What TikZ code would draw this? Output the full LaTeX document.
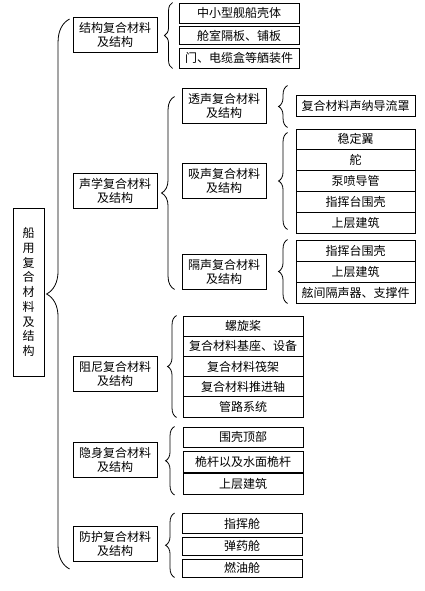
\documentclass[tikz,border=0pt]{standalone}
\usepackage{fontspec}
\setmainfont{Noto Sans CJK SC}
\usetikzlibrary{decorations.pathreplacing}

\begin{document}
\begin{tikzpicture}[x=1pt, y=-1pt,
    box/.style={draw, line width=0.9pt, inner sep=0pt, align=center, font=\fontsize{12}{14}\selectfont},
    mid/.style={box, minimum width=84pt, minimum height=35pt},
    item/.style={box, minimum width=120pt, minimum height=20pt},
    brc/.style={decorate, decoration={brace, amplitude=#1}, line width=0.8pt},
    brc/.default=9pt]
    \useasboundingbox (0,0) rectangle (425,591);

    \node[box, minimum width=31pt, minimum height=168pt, font=\fontsize{12}{14.75}\selectfont] (root) at (28.5,292) {船\\用\\复\\合\\材\\料\\及\\结\\构};

    \node[mid] (jg) at (115,35) {结构复合材料\\及结构};
    \node[mid] (sx) at (115,190.5) {声学复合材料\\及结构};
    \node[mid] (zn) at (115,374) {阻尼复合材料\\及结构};
    \node[mid] (ys) at (115,459.5) {隐身复合材料\\及结构};
    \node[mid] (fh) at (115,544) {防护复合材料\\及结构};

    \node[mid] (ts) at (224,105.5) {透声复合材料\\及结构};
    \node[mid] (xs) at (224,181) {吸声复合材料\\及结构};
    \node[mid] (gs) at (224,271.5) {隔声复合材料\\及结构};

    \node[item] (jg1) at (239,13) {中小型舰船壳体};
    \node[item, minimum height=18pt] (jg2) at (239,35.5) {舱室隔板、铺板};
    \node[item] (jg3) at (239,58) {门、电缆盒等舾装件};

    \node[item, minimum width=119pt, minimum height=21pt] (ts1) at (355.5,105.5) {复合材料声纳导流罩};

    \node[item, minimum width=119pt, minimum height=20.8pt] (xs1) at (355.5,139.4) {稳定翼};
    \node[item, minimum width=119pt, minimum height=20.8pt] (xs2) at (355.5,160.2) {舵};
    \node[item, minimum width=119pt, minimum height=20.8pt] (xs3) at (355.5,181) {泵喷导管};
    \node[item, minimum width=119pt, minimum height=20.8pt] (xs4) at (355.5,201.8) {指挥台围壳};
    \node[item, minimum width=119pt, minimum height=20.8pt] (xs5) at (355.5,222.6) {上层建筑};

    \node[item, minimum width=119pt, minimum height=21pt] (gs1) at (355.5,250.5) {指挥台围壳};
    \node[item, minimum width=119pt, minimum height=21pt] (gs2) at (355.5,271.5) {上层建筑};
    \node[item, minimum width=119pt, minimum height=21pt] (gs3) at (355.5,292.5) {舷间隔声器、支撑件};

    \node[item, minimum height=20.2pt] (zn1) at (243,326.1) {螺旋桨};
    \node[item, minimum height=20.2pt] (zn2) at (243,346.3) {复合材料基座、设备};
    \node[item, minimum height=20.2pt] (zn3) at (243,366.5) {复合材料筏架};
    \node[item, minimum height=20.2pt] (zn4) at (243,386.7) {复合材料推进轴};
    \node[item, minimum height=20.2pt] (zn5) at (243,406.9) {管路系统};

    \node[item] (ys1) at (243,437) {围壳顶部};
    \node[item, minimum height=21pt] (ys2) at (243,461.5) {桅杆以及水面桅杆};
    \node[item, minimum height=21pt] (ys3) at (243,484) {上层建筑};

    \node[item] (fh1) at (242,523.5) {指挥舱};
    \node[item, minimum height=18pt] (fh2) at (242,546) {弹药舱};
    \node[item, minimum height=18pt] (fh3) at (242,568) {燃油舱};

    \draw[brc=23pt] ([xshift=-3pt,yshift=-7pt]fh.south west) -- ([xshift=-3pt,yshift=-2pt]jg.north west);
    \draw[brc=8pt] ([xshift=-6pt]jg3.south west) -- ([xshift=-6pt]jg1.north west);
    \draw[brc=13pt] ([xshift=-7pt]gs.south west) -- ([xshift=-7pt,yshift=-9pt]ts.north west);
    \draw[brc] ([xshift=-8pt,yshift=-11pt]ts1.south west) -- ([xshift=-8pt,yshift=9pt]ts1.north west);
    \draw[brc] ([xshift=-8pt,yshift=4pt]xs5.south west) -- ([xshift=-8pt,yshift=-4pt]xs1.north west);
    \draw[brc] ([xshift=-8pt]gs3.south west) -- ([xshift=-8pt]gs1.north west);
    \draw[brc] ([xshift=-6pt]zn5.south west) -- ([xshift=-6pt]zn1.north west);
    \draw[brc] ([xshift=-8pt]ys3.south west) -- ([xshift=-8pt]ys1.north west);
    \draw[brc] ([xshift=-7pt]fh3.south west) -- ([xshift=-7pt]fh1.north west);
\end{tikzpicture}
\end{document}
